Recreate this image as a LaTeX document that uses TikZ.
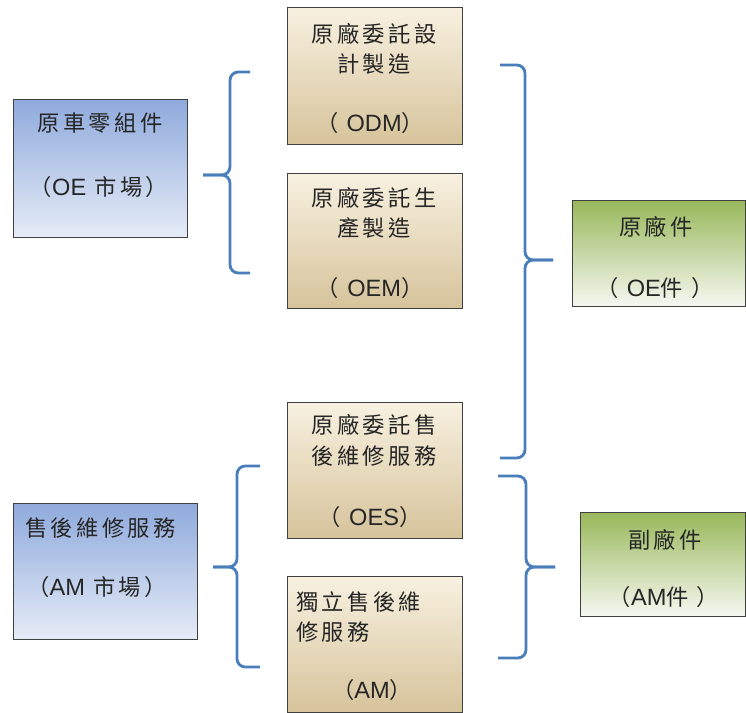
\documentclass[tikz,border=0pt]{standalone}
\usepackage{fontspec}
\newfontfamily\cjk[LetterSpace=15]{Noto Sans CJK TC}
\newfontfamily\lat[Scale=1.06]{Liberation Sans}

\definecolor{boxline}{HTML}{404040}
\definecolor{bluetop}{HTML}{8FAADC}
\definecolor{bluebot}{HTML}{E6ECF7}
\definecolor{tantop}{HTML}{F8F1E0}
\definecolor{tanmid}{HTML}{F1E6CC}
\definecolor{tanbot}{HTML}{D6C39B}
\definecolor{greentop}{HTML}{98B85A}
\definecolor{greenbot}{HTML}{F6F8F1}
\definecolor{bracket}{HTML}{4A7EBB}

\tikzset{
  box/.style={draw=boxline, line width=1pt, anchor=north west, inner sep=0pt},
  market/.style={box, top color=bluetop, bottom color=bluebot},
  channel/.style={box, top color=tantop, middle color=tanmid, bottom color=tanbot},
  part/.style={box, top color=greentop, middle color=greentop!92!white, bottom color=greenbot},
  txt/.style={font=\cjk\fontsize{19}{19}\selectfont, inner sep=0pt, text=black!85},
  brk/.style={draw=bracket, line width=2.4pt, rounded corners=7pt},
}

\begin{document}
\begin{tikzpicture}[x=0.03cm, y=-0.03cm] % 1 unit = 1 px of the reference
  \useasboundingbox (0,0) rectangle (746,713);

  % markets on the left
  \node[market, minimum width=5.22cm, minimum height=4.14cm] (oe) at (13,99) {};
  \node[market, minimum width=5.52cm, minimum height=4.08cm] (amk) at (13,503) {};

  % channels in the middle
  \node[channel, minimum width=5.25cm, minimum height=4.11cm] (odm) at (287,7) {};
  \node[channel, minimum width=5.25cm, minimum height=4.05cm] (oem) at (287,173) {};
  \node[channel, minimum width=5.25cm, minimum height=4.08cm] (oes) at (287,402) {};
  \node[channel, minimum width=5.25cm, minimum height=4.08cm] (am) at (287,576) {};

  % parts on the right
  \node[part, minimum width=5.19cm, minimum height=3.18cm] (oep) at (572,200) {};
  \node[part, minimum width=4.95cm, minimum height=3.12cm] (amp) at (580,512) {};

  % texts
  \node[txt] (oe1) at (100,123) {原車零組件};
  \node[txt] (oe2) at (99,187) {（{\lat OE} 市場）};
  \node[txt, anchor=west] (amk1) at (25,528) {售後維修服務};
  \node[txt] (amk2) at (97,587) {（{\lat AM} 市場）};

  \node[txt] (odm1) at (374,34) {原廠委託設};
  \node[txt] (odm2) at (374,64) {計製造};
  \node[txt] (odm3) at (370,123) {（ {\lat ODM}）};
  \node[txt] (oem1) at (374,198) {原廠委託生};
  \node[txt] (oem2) at (374,228) {產製造};
  \node[txt] (oem3) at (370,288) {（ {\lat OEM}）};
  \node[txt] (oes1) at (374,425) {原廠委託售};
  \node[txt] (oes2) at (374,456) {後維修服務};
  \node[txt] (oes3) at (370,517) {（ {\lat OES}）};
  \node[txt, anchor=west] (am1) at (296,602) {獨立售後維};
  \node[txt, anchor=west] (am2) at (296,632) {修服務};
  \node[txt] (am3) at (372,690) {（{\lat AM}）};

  \node[txt] (oep1) at (656,227) {原廠件};
  \node[txt] (oep2) at (655,288) {（ {\lat OE}件 ）};
  \node[txt] (amp1) at (665,540) {副廠件};
  \node[txt] (amp2) at (664,597) {（{\lat AM}件 ）};

  % bracket tips
  \coordinate (b1) at (203,175);
  \coordinate (b2) at (553,260);
  \coordinate (b3) at (213,567);
  \coordinate (b4) at (555,567);

  % brackets
  \draw[brk] (250,72) -- (230,72) -- (230,175) -- (b1);
  \draw[brk] (b1) -- (230,175) -- (230,273) -- (250,273);
  \draw[brk] (500,65) -- (525,65) -- (525,260) -- (b2);
  \draw[brk] (b2) -- (525,260) -- (525,458) -- (500,458);
  \draw[brk] (260,466) -- (237,466) -- (237,567) -- (b3);
  \draw[brk] (b3) -- (237,567) -- (237,667) -- (260,667);
  \draw[brk] (498,476) -- (526,476) -- (526,567) -- (b4);
  \draw[brk] (b4) -- (526,567) -- (526,658) -- (498,658);
\end{tikzpicture}
\end{document}
